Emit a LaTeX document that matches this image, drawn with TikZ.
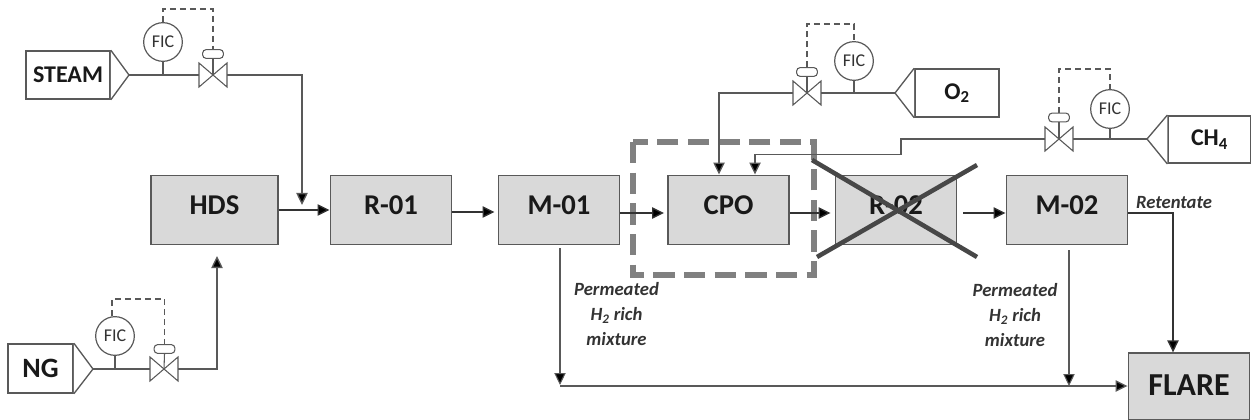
\documentclass[tikz,border=0pt]{standalone}
\usepackage{fontspec}
\setmainfont{Carlito}
\usetikzlibrary{arrows.meta,calc}
\definecolor{boxfill}{HTML}{D9D9D9}
\definecolor{ln}{HTML}{595959}
\definecolor{dk}{HTML}{333333}
\tikzset{
 x=0.75pt,y=-0.75pt,
 unit/.style={draw=ln,line width=1.2pt,fill=boxfill,minimum width=91pt,minimum height=52pt,inner sep=0pt,font=\fontsize{21.5}{24}\selectfont\bfseries,text=black!90},
 feed/.style={draw=ln,line width=1.2pt,fill=white,inner sep=0pt,font=\fontsize{18}{20}\selectfont\bfseries,text=black!90},
 fic/.style={draw=ln,line width=0.9pt,circle,fill=white,minimum size=29pt,inner sep=0pt,font=\fontsize{13.5}{15}\selectfont,text=dk},
 pipe/.style={draw=ln,line width=1pt},
 flow/.style={draw=dk,line width=1pt,-{Triangle[length=9pt,width=8.5pt,fill=black]}},
 sig/.style={draw=ln,line width=0.9pt,dash pattern=on 4.5pt off 3pt},
 vbody/.style={draw=ln,line width=0.8pt,fill=white},
 act/.style={draw=ln,line width=0.8pt,fill=white,rounded corners=2.5pt,minimum width=15.5pt,minimum height=6.5pt,inner sep=0pt},
 note/.style={font=\fontsize{14}{19}\selectfont\itshape\bfseries,text=dk,align=center,inner sep=0pt},
}
\newcommand{\valvesym}[2]{%
 \coordinate (#1) at (#2);
 \draw[vbody] ($(#1)+(-14,-12)$) -- ($(#1)+(14,12)$) -- ($(#1)+(14,-12)$) -- ($(#1)+(-14,12)$) -- cycle;
 \coordinate (#1w) at ($(#1)+(-14,0)$);
 \coordinate (#1e) at ($(#1)+(14,0)$);
}
\begin{document}
\begin{tikzpicture}
\useasboundingbox (0,0) rectangle (1251,420);
\coordinate (yA) at (0,210);
\coordinate (yB) at (0,212);
\coordinate (yC) at (0,213);
\coordinate (yD) at (0,386);
% highlighted CPO frame
\coordinate (fa) at (633,142);
\coordinate (fb) at (814,275);
\draw[draw=black!50,line width=4.6pt,dash pattern=on 16pt off 7pt] (fa) rectangle (fb);
% units
\node[unit,minimum width=95pt] (hds) at (214.5,210) {\raisebox{7pt}{HDS}};
\node[unit] (r01) at (391,210) {\raisebox{7pt}{R-01}};
\node[unit] (m01) at (559,210) {\raisebox{7pt}{M-01}};
\node[unit] (cpo) at (728.5,210) {\raisebox{7pt}{CPO}};
\node[unit] (r02) at (896,210) {\raisebox{7pt}{R-02}};
\node[unit] (m02) at (1067,210) {\raisebox{7pt}{M-02}};
\node[unit,minimum height=50pt,font=\fontsize{24}{26}\selectfont\bfseries] (flare) at (1189,386.5) {\raisebox{2pt}{FLARE}};
% feed boxes
\node[feed,minimum width=63pt,minimum height=36pt] (steam) at (68,75) {\raisebox{-2pt}{STEAM}};
\node[feed,minimum width=49pt,minimum height=36.5pt,font=\fontsize{21}{23}\selectfont\bfseries] (ng) at (40.5,368.5) {\raisebox{-3pt}{NG}};
\node[feed,minimum width=63pt,minimum height=36pt] (o2) at (957,93) {\raisebox{-2pt}{O\textsubscript{2}}};
\node[feed,minimum width=62pt,minimum height=35.5pt] (ch4) at (1209.5,139.5) {\raisebox{-2pt}{CH\textsubscript{4}}};
% feed nozzles
\coordinate (steamtip) at (129,75);
\coordinate (ngtip) at (93,369);
\coordinate (o2tip) at (895,93);
\coordinate (ch4tip) at (1147,139);
\draw[vbody,line width=1pt] (steam.north east) -- (steamtip) -- (steam.south east);
\draw[vbody,line width=1pt] (ng.north east) -- (ngtip) -- (ng.south east);
\draw[vbody,line width=1pt] (o2.north west) -- (o2tip) -- (o2.south west);
\draw[vbody,line width=1pt] (ch4.north west) -- (ch4tip) -- (ch4.south west);
% valves
\valvesym{vs}{213,75}
\valvesym{vn}{164,369}
\valvesym{vo}{807,93}
\valvesym{vc}{1059,139}
% actuators
\node[act] (as) at (213,54) {};
\node[act] (an) at (164.5,349) {};
\node[act] (ao) at (807,72) {};
\node[act] (ac) at (1059,117.5) {};
\foreach \v/\a in {vs/as,vn/an,vo/ao,vc/ac}{\draw[pipe,line width=0.8pt] (\a.south) -- (\v);}
% instruments
\node[fic] (fs) at (163,42) {FIC};
\node[fic] (fn) at (115,336) {FIC};
\node[fic] (fo) at (854,61) {FIC};
\node[fic] (fc) at (1110,109) {FIC};
% signal lines
\coordinate (ds) at (162,9);
\coordinate (dn) at (112,299);
\coordinate (do) at (807,24);
\coordinate (dc) at (1059,69);
\draw[sig] (fs.north) -- (fs.north |- ds) -- (as.north |- ds) -- (as.north);
\draw[sig] (fn.north -| dn) -- (dn) -- (an.north |- dn) -- (an.north);
\draw[sig] (ao.north) -- (ao.north |- do) -- (fo.north |- do) -- (fo.north);
\draw[sig] (ac.north) -- (ac.north |- dc) -- (fc.north |- dc) -- (fc.north);
% instrument tapping + pipes
\draw[pipe] (fs.south) -- (fs.south |- steamtip);
\draw[pipe] (fn.south) -- (fn.south |- ngtip);
\draw[pipe] (fo.south) -- (fo.south |- o2tip);
\draw[pipe] (fc.south) -- (fc.south |- ch4tip);
\draw[pipe] (steamtip) -- (vsw);
\draw[pipe] (ngtip) -- (vnw);
\draw[pipe] (o2tip) -- (voe);
\draw[pipe] (ch4tip) -- (vce);
% process connectors
\coordinate (s1) at (302,75);
\coordinate (s2) at (302,205);
\draw[flow,draw=ln] (vse) -- (s1) -- (s2);
\coordinate (n1) at (217,369);
\coordinate (n2) at (217,256);
\draw[flow,draw=ln] (vne) -- (n1) -- (n2);
\coordinate (o1) at (719,93);
\draw[flow,draw=ln] (vow) -- (o1) -- (o1 |- cpo.north);
\coordinate (c1) at (901,139);
\coordinate (c2) at (901,154.5);
\coordinate (c3) at (755,154.5);
\draw[flow,draw=ln] (vcw) -- (c1) -- (c2) -- (c3) -- (c3 |- cpo.north);
\draw[flow] (hds.east) -- (r01.west);
\draw[flow] (r01.east |- yB) -- ($(m01.west |- yB)+(-3,0)$);
\draw[flow] (m01.east |- yC) -- ($(cpo.west |- yC)+(-3,0)$);
\draw[flow] (cpo.east |- yC) -- ($(r02.west |- yC)+(-4,0)$);
\coordinate (r2out) at (963,213);
\draw[flow] (r2out) -- (m02.west |- r2out);
\coordinate (ret) at (1173,213);
\draw[flow] (m02.east |- ret) -- (ret) -- (ret |- flare.north);
\coordinate (p1) at (560,248);
\coordinate (p2) at (560,385);
\draw[flow,draw=ln,line width=0.8pt] (p1) -- (p2);
\coordinate (p3) at (1069,250);
\coordinate (p4) at (1069,386);
\draw[flow,draw=ln,line width=0.8pt] (p3) -- (p4);
\coordinate (b1) at (560,386);
\draw[flow,draw=ln] (b1) -- (flare.west |- b1);
% cross over R-02
\coordinate (x1) at (977,165);
\coordinate (x2) at (817,257);
\coordinate (x3) at (977,257);
\coordinate (x4) at (812,160);
\draw[draw=black!72,line width=3.4pt] (x1) -- (x2);
\draw[draw=black!72,line width=3.4pt] (x3) -- (x4);
% labels
\node[note] (lret) at (1174,203) {Retentate};
\node[note] (lp1) at (616.5,314) {Permeated\\H\textsubscript{2} rich\\mixture};
\node[note] (lp2) at (1015,315) {Permeated\\H\textsubscript{2} rich\\mixture};
\end{tikzpicture}
\end{document}
